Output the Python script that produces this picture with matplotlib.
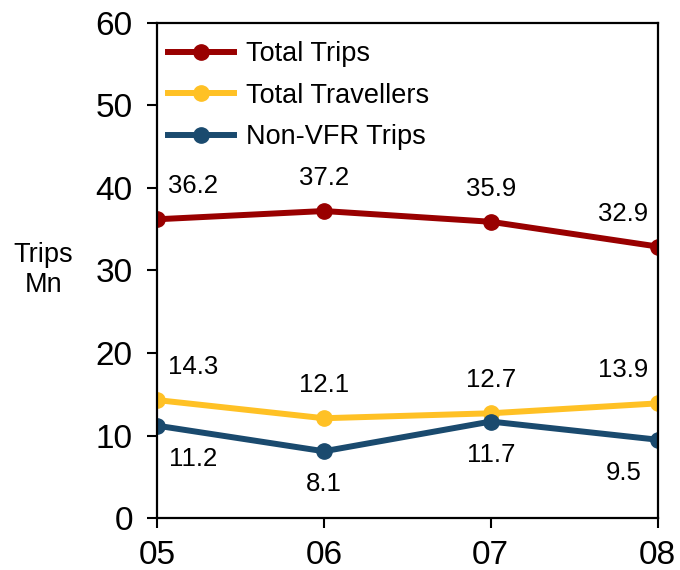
import numpy as np
import matplotlib.pyplot as plt

plt.rcParams['font.family'] = ['Liberation Sans', 'DejaVu Sans']

years = ['05', '06', '07', '08']
total_trips = [36.2, 37.2, 35.9, 32.9]
total_travellers = [14.3, 12.1, 12.7, 13.9]
non_vfr_trips = [11.2, 8.1, 11.7, 9.5]

series = [
    ('Total Trips', total_trips, '#990000', 'above'),
    ('Total Travellers', total_travellers, '#FFC125', 'above'),
    ('Non-VFR Trips', non_vfr_trips, '#1A4A6E', 'below'),
]

fig, ax = plt.subplots(figsize=(6.8, 5.7), dpi=100)
fig.subplots_adjust(left=0.231, right=0.967, bottom=0.091, top=0.96)

x = np.arange(len(years))
for name, vals, col, pos in series:
    ax.plot(x, vals, color=col, lw=4.3, marker='o', ms=11, label=name)
    for i, v in enumerate(vals):
        dx = 36 if i == 0 else (-34 if i == len(vals) - 1 else 0)
        dy = 33 if pos == 'above' else -33
        ax.annotate(f'{v:.1f}', (x[i], v), xytext=(dx, dy),
                    textcoords='offset pixels', ha='center', va='center',
                    fontsize=18.5)

ax.set_xlim(0, 3)
ax.set_ylim(0, 60)
ax.set_xticks(x)
ax.set_xticklabels(years)
ax.set_yticks(np.arange(0, 61, 10))
ax.tick_params(labelsize=24, width=1.5, length=7.5, direction='out')
ax.tick_params(axis='x', pad=8)
ax.tick_params(axis='y', pad=10)
for s in ax.spines.values():
    s.set_linewidth(1.6)
ax.set_ylabel('Trips\nMn', rotation=0, fontsize=19.5, va='center')
ax.yaxis.set_label_coords(-0.227, 0.5)

ax.legend(loc='upper left', bbox_to_anchor=(0.002, 0.982), frameon=False,
          fontsize=19.5, handlelength=2.45, handletextpad=0.45,
          labelspacing=0.57, borderaxespad=0.15, borderpad=0.2)

fig.savefig('out.png', dpi=100)
